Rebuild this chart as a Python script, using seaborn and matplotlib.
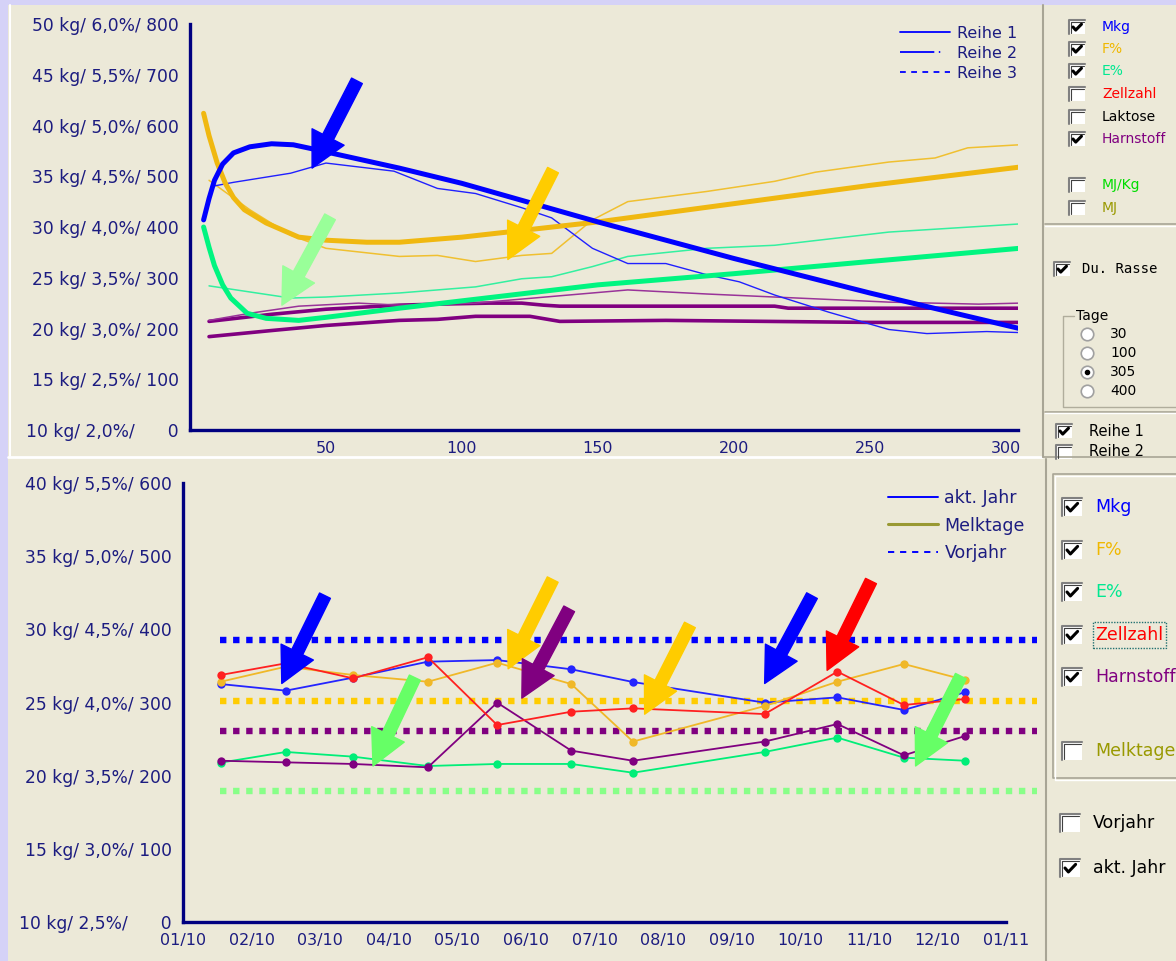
import matplotlib
matplotlib.use("Agg")
import matplotlib.pyplot as plt
from matplotlib.patches import Rectangle
from matplotlib.lines import Line2D
import seaborn as sns

W, H = 1176, 961

# ---------------- top chart: lactation curves over days in milk ----------------
top_yticks = [10, 15, 20, 25, 30, 35, 40, 45, 50]
top_ylabels = ["10 kg/ 2,0%/      0", "15 kg/ 2,5%/ 100", "20 kg/ 3,0%/ 200",
               "25 kg/ 3,5%/ 300", "30 kg/ 4,0%/ 400", "35 kg/ 4,5%/ 500",
               "40 kg/ 5,0%/ 600", "45 kg/ 5,5%/ 700", "50 kg/ 6,0%/ 800"]
top_xticks = [50, 100, 150, 200, 250, 300]

# Reihe 1 (thick)
mkg1_days = [5, 7, 9, 12, 16, 22, 30, 38, 45, 50, 77, 100, 150, 200, 250, 305]
mkg1 = [30.7, 32.8, 34.6, 36.2, 37.3, 37.9, 38.2, 38.1, 37.7, 37.4, 35.8, 34.3, 30.5, 26.9, 23.5, 20.0]
fett1_days = [5, 7, 10, 13, 16, 20, 28, 40, 50, 65, 77, 100, 150, 200, 250, 305]
fett1 = [41.2, 39.0, 36.3, 34.3, 32.9, 31.7, 30.4, 29.0, 28.7, 28.5, 28.5, 29.0, 30.5, 32.3, 34.1, 35.9]
eiw1_days = [5, 7, 9, 12, 15, 21, 28, 40, 50, 77, 150, 200, 250, 305]
eiw1 = [30.0, 28.0, 26.2, 24.3, 23.0, 21.5, 21.0, 20.8, 21.1, 22.0, 24.3, 25.4, 26.6, 27.9]
harn1a_days = [7, 30, 50, 77, 91, 110, 122, 130, 136, 215, 220, 305]
harn1a = [20.7, 21.4, 21.9, 22.3, 22.4, 22.5, 22.5, 22.3, 22.2, 22.2, 22.0, 22.0]
harn1b_days = [7, 30, 50, 77, 91, 105, 125, 136, 175, 250, 305]
harn1b = [19.2, 19.8, 20.3, 20.8, 20.9, 21.2, 21.2, 20.7, 20.8, 20.6, 20.6]

# Reihe 2 (thin)
mkg2_days = [8, 16, 37, 50, 75, 91, 105, 122, 133, 148, 161, 175, 190, 202, 215, 235, 257, 271, 293, 305]
mkg2 = [34.0, 34.4, 35.3, 36.3, 35.5, 33.8, 33.3, 31.9, 30.9, 27.9, 26.4, 26.4, 25.3, 24.6, 23.3, 21.6, 19.9, 19.5, 19.7, 19.6]
fett2_days = [7, 22, 37, 50, 77, 91, 105, 122, 133, 148, 161, 190, 215, 230, 257, 274, 286, 305]
fett2 = [34.6, 31.7, 29.2, 27.9, 27.1, 27.2, 26.6, 27.2, 27.4, 30.7, 32.5, 33.5, 34.5, 35.4, 36.4, 36.8, 37.8, 38.1]
eiw2_days = [7, 37, 50, 77, 105, 122, 133, 148, 161, 190, 215, 257, 305]
eiw2 = [24.2, 23.0, 23.1, 23.5, 24.1, 24.9, 25.1, 26.1, 27.1, 27.9, 28.2, 29.5, 30.3]
harn2_days = [7, 22, 40, 62, 77, 105, 122, 161, 190, 215, 257, 290, 305]
harn2 = [20.8, 21.5, 22.2, 22.5, 22.3, 22.5, 22.9, 23.8, 23.4, 23.1, 22.6, 22.4, 22.5]

# ---------------- bottom chart: monthly test results ----------------
bot_yticks = [10, 15, 20, 25, 30, 35, 40]
bot_ylabels = ["10 kg/ 2,5%/      0", "15 kg/ 3,0%/ 100", "20 kg/ 3,5%/ 200",
               "25 kg/ 4,0%/ 300", "30 kg/ 4,5%/ 400", "35 kg/ 5,0%/ 500",
               "40 kg/ 5,5%/ 600"]
months = ["01/10", "02/10", "03/10", "04/10", "05/10", "06/10", "07/10",
          "08/10", "09/10", "10/10", "11/10", "12/10", "01/11"]
test_pos = [0.55, 1.5, 2.48, 3.57, 4.58, 5.66, 6.56, 8.48, 9.54, 10.51, 11.4]
mkg_akt = [26.26, 25.81, 26.7, 27.79, 27.9, 27.27, 26.4, 24.99, 25.35, 24.49, 25.7]
fett_akt = [26.42, 27.45, 26.88, 26.42, 27.72, 26.26, 22.33, 24.76, 26.42, 27.63, 26.54]
eiw_akt = [20.89, 21.62, 21.3, 20.66, 20.8, 20.8, 20.2, 21.62, 22.6, 21.23, 21.02]
harn_akt = [21.02, 20.91, 20.8, 20.57, 24.99, 21.71, 21.02, 22.33, 23.53, 21.39, 22.71]
zell_akt = [26.88, 27.68, 26.65, 28.09, 23.46, 24.37, 24.6, 24.21, 27.11, 24.83, 25.24]
vorjahr_vals = [29.27, 25.1, 23.07, 18.95]
vorjahr_cols = ["#0000ff", "#ffcc00", "#800080", "#88ff88"]

NAVY = "#000080"
TXT = "#1c1c80"
BEIGE = "#ece9d8"

sns.set_style("white")
plt.rcParams["font.family"] = ["DejaVu Sans"]

fig = plt.figure(figsize=(W / 100, H / 100), dpi=100, facecolor="#d5d2f7")


def fx(x):
    return x / W


def fy(y):
    return 1 - y / H


def rect(x0, y0, x1, y1, zorder=1, **kw):
    fig.patches.append(Rectangle((fx(x0), fy(y1)), (x1 - x0) / W, (y1 - y0) / H,
                                 transform=fig.transFigure, zorder=zorder, **kw))


def line(xs, ys, color, lw=1.0, **kw):
    fig.add_artist(Line2D([fx(x) for x in xs], [fy(y) for y in ys],
                          transform=fig.transFigure, color=color, lw=lw, **kw))


def text(x, y, s, color="black", size=9.5, **kw):
    fig.text(fx(x), fy(y), s, color=color, fontsize=size, ha="left", va="center", **kw)


def checkbox(x, y, w, h, checked):
    rect(x, y, x + w, y + h, facecolor="white", edgecolor="none")
    line([x, x, x + w], [y + h, y, y], "#808080", 1.5)
    line([x + 1.5, x + 1.5, x + w - 1], [y + h - 1, y + 1.5, y + 1.5], "#404040", 0.8)
    if checked:
        line([x + 0.25 * w, x + 0.42 * w, x + 0.78 * w],
             [y + 0.5 * h, y + 0.72 * h, y + 0.3 * h], "black", 2.2)


def radio(x, y, selected):
    fig.add_artist(Line2D([fx(x)], [fy(y)], transform=fig.transFigure, marker="o",
                          ms=9, mfc="white", mec="#a0a0a0", mew=1.2))
    if selected:
        fig.add_artist(Line2D([fx(x)], [fy(y)], transform=fig.transFigure, marker="o",
                              ms=3, mfc="black", mec="black"))


# window background
rect(8, 5, W, H, zorder=-10, facecolor=BEIGE, edgecolor="none")
line([10, 10], [5, 456], "white", 1.5)
line([8, 1042], [457.5, 457.5], "white", 2)
line([1043, 1043], [5, 457], "#a8a595", 1.5)
line([1046, 1046], [459, H], "#a8a595", 1.5)
line([1043, W], [457, 457], "#a8a595", 1.2)

# ---------------- top chart ----------------
ax1 = fig.add_axes([fx(190), fy(430), (1018 - 190) / W, (430 - 24) / H])
ax1.set_facecolor("none")
top_series = [
    (harn1b_days, harn1b, "#800080", 2.6),
    (harn1a_days, harn1a, "#800080", 2.6),
    (harn2_days, harn2, "#993399", 1.1),
    (eiw2_days, eiw2, "#33f0a0", 1.1),
    (fett2_days, fett2, "#f0c030", 1.1),
    (mkg2_days, mkg2, "#2020ff", 1.0),
    (eiw1_days, eiw1, "#00f580", 3.6),
    (fett1_days, fett1, "#f0b810", 3.6),
    (mkg1_days, mkg1, "#0000ff", 3.6),
]
for d, v, c, lw in top_series:
    sns.lineplot(x=d, y=v, ax=ax1, color=c, linewidth=lw, estimator=None, sort=False)

ax1.set_xlim(0, 304.5)
ax1.set_ylim(10, 50)
ax1.set_yticks(top_yticks)
ax1.set_yticklabels(top_ylabels)
ax1.set_xticks(top_xticks)
ax1.set_xticklabels([str(t) for t in top_xticks])

top_arrows = [((61.4, 44.4), (44.9, 35.8), "#0000ff"),
              ((133.5, 35.6), (116.9, 26.8), "#ffcc00"),
              ((51.5, 31.0), (33.8, 22.3), "#99ff99")]

leg_h = [Line2D([], [], color="#0000ff", lw=1.3),
         Line2D([], [], color="#0000ff", lw=1.3, dashes=(19, 2.5, 0.8, 40)),
         Line2D([], [], color="#0000ff", lw=1.3, dashes=(3.2, 3))]
ax1.legend(leg_h, ["Reihe 1", "Reihe 2", "Reihe 3"], loc="upper left",
           bbox_to_anchor=(fx(900), fy(26)), bbox_transform=fig.transFigure,
           frameon=False, fontsize=11.5, labelcolor=TXT, handlelength=3.1,
           handletextpad=0.45, labelspacing=0.3, borderpad=0, borderaxespad=0)

# ---------------- bottom chart ----------------
ax2 = fig.add_axes([fx(183), fy(922), (1037 - 183) / W, (922 - 483) / H])
ax2.set_facecolor("none")
for v, c in zip(vorjahr_vals, vorjahr_cols):
    ax2.hlines(v, 0.54, 12.45, color=c, lw=4.6, linestyles=(0, (1, 1.05)))

bot_series = [(mkg_akt, "#2424ff"), (fett_akt, "#f0b828"), (eiw_akt, "#00ee78"),
              (harn_akt, "#800080"), (zell_akt, "#ff2020")]
for v, c in bot_series:
    sns.lineplot(x=test_pos, y=v, ax=ax2, color=c, linewidth=1.3, marker="o",
                 markersize=6, markeredgewidth=0, estimator=None, sort=False)

ax2.set_xlim(0, 12.45)
ax2.set_ylim(10, 40)
ax2.set_yticks(bot_yticks)
ax2.set_yticklabels(bot_ylabels)
ax2.set_xticks(range(len(months)))
ax2.set_xticklabels(months)
ax2.spines["bottom"].set_bounds(0, 12)

bot_arrows = [((2.07, 32.3), (1.44, 26.3), "#0000ff"),
              ((3.38, 26.7), (2.77, 20.66), "#66ff66"),
              ((5.39, 33.4), (4.74, 27.3), "#ffcc00"),
              ((5.63, 31.4), (4.94, 25.3), "#800080"),
              ((7.39, 30.3), (6.73, 24.2), "#ffcc00"),
              ((9.17, 32.3), (8.48, 26.3), "#0000ff"),
              ((10.03, 33.3), (9.39, 27.2), "#ff0000"),
              ((11.34, 26.8), (10.68, 20.66), "#66ff66")]

leg_h2 = [Line2D([], [], color="#0000ff", lw=1.4),
          Line2D([], [], color="#999933", lw=2.2),
          Line2D([], [], color="#0000ff", lw=1.4, dashes=(3.2, 3))]
ax2.legend(leg_h2, ["akt. Jahr", "Melktage", "Vorjahr"], loc="upper left",
           bbox_to_anchor=(fx(888), fy(489)), bbox_transform=fig.transFigure,
           frameon=False, fontsize=12.5, labelcolor=TXT, handlelength=2.9,
           handletextpad=0.35, labelspacing=0.55, borderpad=0, borderaxespad=0)

for ax, arrows in ((ax1, top_arrows), (ax2, bot_arrows)):
    for sp in ("top", "right"):
        ax.spines[sp].set_visible(False)
    for sp in ("left", "bottom"):
        ax.spines[sp].set_color(NAVY)
        ax.spines[sp].set_linewidth(2.4)
    ax.tick_params(axis="both", direction="out", length=5, width=1.4, color=NAVY,
                   labelcolor=TXT, labelsize=11.5, pad=3)
    ax.tick_params(axis="y", labelsize=12.3)
    ax.set_xlabel("")
    ax.set_ylabel("")
    ax.grid(False)
    for tail, tip, c in arrows:
        ax.annotate("", xy=tip, xytext=tail,
                    arrowprops=dict(arrowstyle="simple,head_width=1.85,head_length=1.8,tail_width=0.62",
                                    mutation_scale=14, color=c, shrinkA=0, shrinkB=0))

# ---------------- right control panel ----------------
top_items = [("Mkg", "#0000ff", 27, True), ("F%", "#f0b800", 49, True),
             ("E%", "#00e890", 71, True), ("Zellzahl", "#ff0000", 94, False),
             ("Laktose", "black", 117, False), ("Harnstoff", "#800080", 139, True),
             ("MJ/Kg", "#00dd00", 185, False), ("MJ", "#999900", 208, False)]
for label, col, y, chk in top_items:
    checkbox(1069, y - 7, 16, 14, chk)
    text(1102, y, label, col, 10)

line([1045, W], [224, 224], "#a8a595", 1.2)
line([1045, W], [225.5, 225.5], "white", 1.0)
checkbox(1054, 262, 16, 14, True)
text(1082, 269, "Du. Rasse", "black", 10, family="DejaVu Sans Mono")

line([1074, 1063, 1063, W], [316, 316, 407, 407], "#b0ad9c", 1.0)
text(1076, 316, "Tage", "black", 10)
for lbl, y, sel in (("30", 334, False), ("100", 353, False), ("305", 372, True), ("400", 391, False)):
    radio(1087, y, sel)
    text(1110, y, lbl, "black", 10)

line([1045, W], [412, 412], "#a8a595", 1.2)
line([1045, W], [413.5, 413.5], "white", 1.0)
checkbox(1056, 424, 16, 14, True)
text(1089, 431, "Reihe 1", "black", 10.5)
checkbox(1056, 445, 16, 14, False)
text(1089, 452, "Reihe 2", "black", 10.5)

# bottom control group
line([W, 1053, 1053, W], [474, 474, 778, 778], "#a8a595", 1.2)
line([W, 1054.5, 1054.5, W], [475.5, 475.5, 779.5, 779.5], "white", 1.0)
bot_items = [("Mkg", "#0000ff", 507, True), ("F%", "#f0b800", 550, True),
             ("E%", "#00e890", 592, True), ("Zellzahl", "#ff0000", 635, True),
             ("Harnstoff", "#800080", 677, True), ("Melktage", "#999900", 751, False)]
for label, col, y, chk in bot_items:
    checkbox(1062, y - 9, 20, 18, chk)
    text(1095, y, label, col, 12.5)
rect(1093, 622, 1166, 648, facecolor="none", edgecolor="#207070", lw=1.0, linestyle=(0, (1, 1)))
checkbox(1060, 814, 20, 18, False)
text(1093, 823, "Vorjahr", "black", 12.5)
checkbox(1060, 859, 20, 18, True)
text(1093, 868, "akt. Jahr", "black", 12.5)

fig.savefig("out.png", dpi=100, facecolor=fig.get_facecolor())
